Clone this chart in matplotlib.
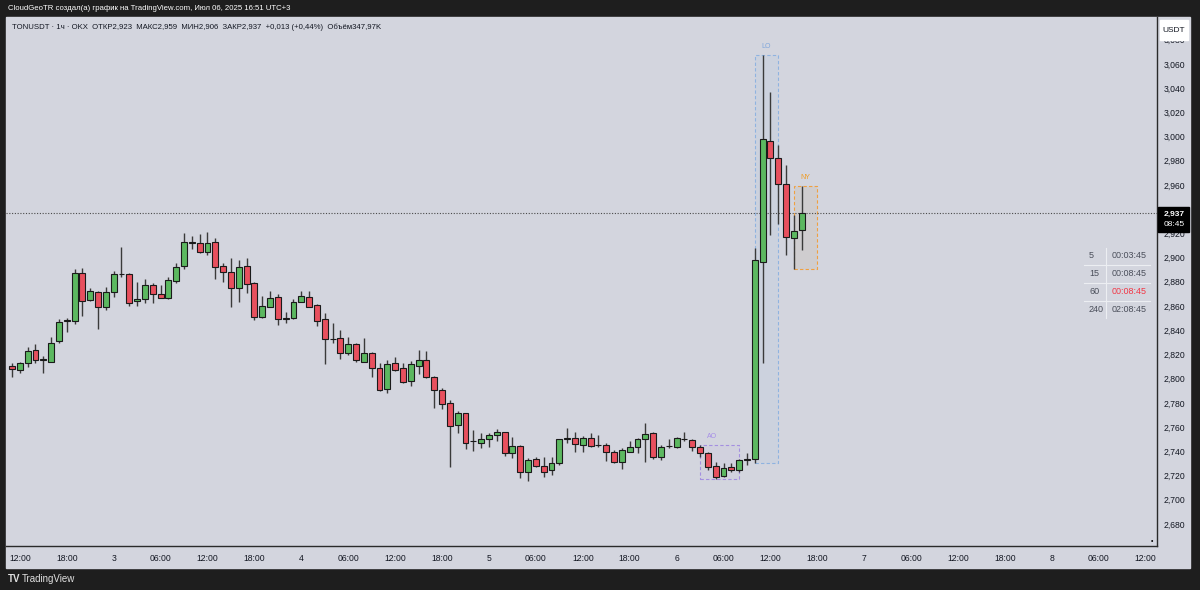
import matplotlib
matplotlib.use("Agg")
import matplotlib.pyplot as plt
from matplotlib.patches import Rectangle
import numpy as np
import pandas as pd

# hourly candles TONUSDT, first candle Jul 2 11:00
first_candle = "2025-07-02 11:00"
opens = [2.8104, 2.8071, 2.8126, 2.8236, 2.8158, 2.8140, 2.8313, 2.8479, 2.8476, 2.8875,
         2.8650, 2.8713, 2.8594, 2.8718, 2.8864, 2.8864, 2.8639, 2.8655, 2.8774, 2.8699,
         2.8664, 2.8807, 2.8933, 2.9122, 2.9118, 2.9049, 2.9131, 2.8933, 2.8879, 2.8746,
         2.8933, 2.8788, 2.8512, 2.8594, 2.8672, 2.8496, 2.8498, 2.8631, 2.8672, 2.8608,
         2.8490, 2.8325, 2.8338, 2.8209, 2.8283, 2.8140, 2.8214, 2.8085, 2.7912, 2.8126,
         2.8085, 2.7980, 2.8104, 2.8154, 2.8016, 2.7906, 2.7801, 2.7617, 2.7713, 2.7486,
         2.7465, 2.7498, 2.7534, 2.7557, 2.7388, 2.7443, 2.7231, 2.7336, 2.7280, 2.7245,
         2.7300, 2.7498, 2.7512, 2.7451, 2.7512, 2.7449, 2.7451, 2.7396, 2.7308, 2.7396,
         2.7437, 2.7498, 2.7553, 2.7355, 2.7441, 2.7432, 2.7505, 2.7493, 2.7432, 2.7383,
         2.7278, 2.7195, 2.7272, 2.7245, 2.7331, 2.7333, 2.8966, 2.9964, 2.9821, 2.9608,
         2.9164, 2.923]
highs = [2.8129, 2.8140, 2.8259, 2.8283, 2.8187, 2.8346, 2.8490, 2.8501, 2.8903, 2.8912,
         2.8746, 2.8724, 2.8760, 2.8892, 2.9085, 2.8875, 2.8796, 2.8821, 2.8793, 2.8774,
         2.8842, 2.8958, 2.9201, 2.9179, 2.9195, 2.9214, 2.9159, 2.8953, 2.8994, 2.8980,
         2.8994, 2.8801, 2.8683, 2.8726, 2.8699, 2.8553, 2.8656, 2.8726, 2.8726, 2.8617,
         2.8540, 2.8457, 2.8402, 2.8346, 2.8292, 2.8333, 2.8222, 2.8126, 2.8154, 2.8176,
         2.8131, 2.8148, 2.8236, 2.8230, 2.8022, 2.7920, 2.7823, 2.7735, 2.7715, 2.7575,
         2.7548, 2.7553, 2.7581, 2.7562, 2.7515, 2.7451, 2.7341, 2.7355, 2.7350, 2.7350,
         2.7501, 2.7594, 2.7562, 2.7526, 2.7548, 2.7534, 2.7465, 2.7410, 2.7424, 2.7487,
         2.7507, 2.7630, 2.7557, 2.7451, 2.7498, 2.7515, 2.7562, 2.7498, 2.7451, 2.7396,
         2.7313, 2.7300, 2.7305, 2.7333, 2.7388, 2.9077, 3.0674, 3.0371, 2.9931, 2.9765,
         2.9352, 2.959]
lows = [2.8013, 2.8044, 2.8093, 2.8131, 2.8049, 2.8138, 2.8292, 2.8388, 2.8449, 2.8517,
        2.8644, 2.8410, 2.8567, 2.8672, 2.8842, 2.8600, 2.8600, 2.8622, 2.8622, 2.8664,
        2.8662, 2.8788, 2.8906, 2.9069, 2.9041, 2.9022, 2.8821, 2.8801, 2.8589, 2.8636,
        2.8710, 2.8484, 2.8505, 2.8592, 2.8443, 2.8462, 2.8496, 2.8629, 2.8592, 2.8435,
        2.8118, 2.8292, 2.8160, 2.8195, 2.8140, 2.8138, 2.8016, 2.7900, 2.7879, 2.8065,
        2.7961, 2.7939, 2.8038, 2.8009, 2.7755, 2.7746, 2.7272, 2.7548, 2.7416, 2.7404,
        2.7424, 2.7437, 2.7487, 2.7360, 2.7342, 2.7176, 2.7154, 2.7272, 2.7189, 2.7203,
        2.7286, 2.7465, 2.7391, 2.7391, 2.7437, 2.7437, 2.7319, 2.7300, 2.7250, 2.7391,
        2.7388, 2.7313, 2.7336, 2.7327, 2.7424, 2.7430, 2.7487, 2.7404, 2.7354, 2.7245,
        2.7168, 2.7189, 2.7231, 2.7231, 2.7286, 2.7300, 2.8131, 2.9187, 2.9278, 2.9022,
        2.8903, 2.906]
closes = [2.8079, 2.8126, 2.8228, 2.8154, 2.8162, 2.8297, 2.8468, 2.8485, 2.8875, 2.8641,
          2.8724, 2.8594, 2.8713, 2.8864, 2.8866, 2.8627, 2.8658, 2.8774, 2.8697, 2.8666,
          2.8815, 2.8925, 2.9131, 2.9126, 2.9049, 2.9118, 2.8920, 2.8879, 2.8746, 2.8925,
          2.8782, 2.8507, 2.8600, 2.8669, 2.8490, 2.8500, 2.8631, 2.8683, 2.8594, 2.8479,
          2.8325, 2.8329, 2.8214, 2.8283, 2.8154, 2.8209, 2.8085, 2.7906, 2.8118, 2.8071,
          2.7974, 2.8118, 2.8154, 2.8011, 2.7906, 2.7790, 2.7608, 2.7713, 2.7470, 2.7482,
          2.7498, 2.7534, 2.7561, 2.7383, 2.7443, 2.7226, 2.7327, 2.7280, 2.7231, 2.7305,
          2.7498, 2.7512, 2.7457, 2.7512, 2.7443, 2.7451, 2.7396, 2.7308, 2.7410, 2.7432,
          2.7498, 2.7540, 2.7355, 2.7437, 2.7445, 2.7512, 2.7498, 2.7432, 2.7383, 2.7267,
          2.7189, 2.7259, 2.7245, 2.7327, 2.7335, 2.8980, 2.9978, 2.9821, 2.9606, 2.9173,
          2.9222, 2.937]

tick_start = "2025-07-02 12:00"
tick_end = "2025-07-08 12:00"

timer_tf = ["5", "15", "60", "240"]
timer_left = ["00:03:45", "00:08:45", "00:08:45", "02:08:45"]

BG = "#d3d5de"
FRAME = "#1e1e1e"
UP = "#5cb860"
DOWN = "#e8505e"
TXT = "#131722"
FONT = "Liberation Sans"

W, H = 1200, 590


def fx(px):
    return px / W


def fy(py):
    return 1 - py / H


fig = plt.figure(figsize=(12, 5.9), dpi=100, facecolor=FRAME)
fig.patches.append(Rectangle((fx(6), fy(568)), fx(1190) - fx(6), fy(17) - fy(568),
                             transform=fig.transFigure, color=BG, zorder=-2))

ax = fig.add_axes([fx(6), fy(546), fx(1157) - fx(6), fy(17) - fy(546)])
ax.set_facecolor(BG)

origin = pd.Timestamp("2025-07-03")
times = pd.date_range(first_candle, periods=len(opens), freq="h")
xs = np.asarray((times - origin) / pd.Timedelta(hours=1))
o, h, l, c = map(np.array, (opens, highs, lows, closes))

up = c >= o
ax.vlines(xs, l, h, color="#3a3a3a", lw=1, zorder=2)
ax.bar(xs, np.abs(c - o), bottom=np.minimum(o, c), width=0.76,
       color=np.where(up, UP, DOWN), edgecolor="#1a1a1a", linewidth=0.8, zorder=3)


# session boxes
def session_box(i0, i1, edge, face, label, lab_x, lab_color):
    lo = l[i0:i1].min()
    hi = h[i0:i1].max()
    ax.add_patch(Rectangle((xs[i0], lo), i1 - i0, hi - lo, facecolor=face,
                           edgecolor=edge, linestyle=(0, (3, 2)), lw=0.8, zorder=1))
    ax.text(xs[i0] + lab_x, hi + 0.004, label, color=lab_color, fontsize=5,
            ha="center", va="bottom", family=FONT)


session_box(95, 98, "#8fb3e0", (0.62, 0.74, 0.9, 0.12), "LO", 1.4, "#7fa6dc")
session_box(88, 93, "#a48fe0", (0.7, 0.6, 0.9, 0.05), "AO", 1.5, "#a68ee8")
# NY box extends into the future
ny_lo, ny_hi = l[100:102].min(), h[100:102].max()
ax.add_patch(Rectangle((xs[100], ny_lo), 3, ny_hi - ny_lo, facecolor=(0.8, 0.78, 0.76, 0.5),
                       edgecolor="#f0a040", linestyle=(0, (3, 2)), lw=0.8, zorder=1))
ax.text(xs[100] + 1.4, ny_hi + 0.004, "NY", color="#f09a20", fontsize=5,
        ha="center", va="bottom", family=FONT)

# last price line
ax.axhline(c[-1], color="#4a4a4a", lw=0.8, linestyle=(0, (1, 1.5)), zorder=1)

ax.set_xlim(-13.77, 133.44)
ax.set_ylim(2.6617, 3.0988)

ticks = pd.date_range(tick_start, tick_end, freq="6h")
tx = np.asarray((ticks - origin) / pd.Timedelta(hours=1))
tl = [str(t.day) if t.hour == 0 else t.strftime("%H:%M") for t in ticks]
ax.set_xticks(tx, tl)
yt = np.arange(2.68, 3.0801, 0.02)
ax.yaxis.tick_right()
# the 2,940 label sits under the last-price box
ylabels = ["" if abs(v - 2.94) < 1e-6 else f"{v:.3f}".replace(".", ",") for v in yt]
ax.set_yticks(yt, ylabels)
ax.tick_params(axis="x", length=0, labelsize=6.2, colors=TXT, pad=6)
ax.tick_params(axis="y", length=0, labelsize=6.2, colors=TXT, pad=5)
for lab in ax.get_xticklabels() + ax.get_yticklabels():
    lab.set_family(FONT)
for s in ("top", "left"):
    ax.spines[s].set_visible(False)
for s in ("right", "bottom"):
    ax.spines[s].set_color("#2a2a2a")
    ax.spines[s].set_linewidth(1)


def ftext(x, y, s, **kw):
    kw.setdefault("family", FONT)
    kw.setdefault("va", "center")
    return fig.text(fx(x), fy(y), s, **kw)


# header texts
ftext(8, 8, "CloudGeoTR создал(а) график на TradingView.com, Июл 06, 2025 16:51 UTC+3",
      color="white", fontsize=5.6)
ftext(12, 27, "TONUSDT · 1ч · OKX  ОТКР2,923  МАКС2,959  МИН2,906  ЗАКР2,937  "
      "+0,013 (+0,44%)  Объём347,97K", color=TXT, fontsize=5.6)

# price axis boxes
fig.patches.append(Rectangle((fx(1160), fy(40)), fx(28), fy(20) - fy(40),
                             transform=fig.transFigure, color="white", zorder=5))
ftext(1174, 30, "USDT", ha="center", fontsize=6, color=TXT, zorder=6)
fig.patches.append(Rectangle((fx(1158), fy(232)), fx(31), fy(207) - fy(232),
                             transform=fig.transFigure, color="black", zorder=5))
ftext(1174, 214, "2,937", ha="center", fontsize=6, color="white", weight="bold", zorder=6)
ftext(1174, 225, "08:45", ha="center", fontsize=6, color="white", zorder=6)

# candle timer table
rows_y = [256, 274, 292, 310]
for k, (tf, left) in enumerate(zip(timer_tf, timer_left)):
    ftext(1089, rows_y[k], tf, fontsize=6.5, color="#4a4e5a")
    ftext(1112, rows_y[k], left, fontsize=6.5,
          color="#f23645" if tf == "60" else "#4a4e5a")
for yy in (265, 283, 301):
    fig.add_artist(plt.Line2D([fx(1084), fx(1150)], [fy(yy), fy(yy)], color="#eceef2", lw=0.8))
fig.add_artist(plt.Line2D([fx(1106), fx(1106)], [fy(248), fy(318)], color="#eceef2", lw=0.8))

ftext(1152, 541, "•", fontsize=5, color="black", ha="center")

# footer logo
ftext(8, 579, "TV", color="#e0e0e0", fontsize=7, weight="bold")
ftext(22, 579, "TradingView", color="#e0e0e0", fontsize=7)

fig.savefig("out.png", dpi=100, facecolor=FRAME)
